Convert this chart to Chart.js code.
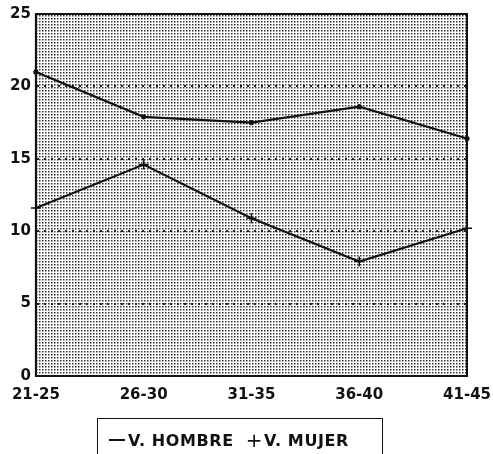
<!DOCTYPE html>
<html>
<head>
<meta charset="utf-8">
<script src="https://cdn.jsdelivr.net/npm/chart.js@4"></script>
<style>
  body { margin: 0; background: #fff; }
  #wrap { position: relative; width: 493px; height: 454px; }
  #legend {
    position: absolute; left: 97px; top: 418px; width: 286px; height: 40px;
    border: 1.5px solid #111; border-bottom: none; box-sizing: border-box;
    font: bold 16px "DejaVu Sans", sans-serif; color: #111;
    padding-top: 9px; padding-left: 11px; letter-spacing: 0.6px; white-space: nowrap;
  }
  #legend .ln { display: inline-block; width: 16px; height: 0; border-top: 2px solid #111; vertical-align: 5px; margin-right: 3px; }
  #legend .pl { display: inline-block; font-weight: normal; font-size: 20px; vertical-align: -1px; margin-left: 12px; margin-right: 1px; }
</style>
</head>
<body>
<div id="wrap">
  <canvas id="myChart" width="493" height="454"></canvas>
  <div id="legend"><span class="ln"></span>V. HOMBRE<span class="pl">+</span>V. MUJER</div>
</div>
<script>
// DATA
const labels = ['21-25', '26-30', '31-35', '36-40', '41-45'];
const hombre = [21.0, 17.9, 17.5, 18.6, 16.4];
const mujer = [11.6, 14.6, 10.9, 7.9, 10.2];

// stippled background pattern
const tile = document.createElement('canvas');
tile.width = 3; tile.height = 3;
const tctx = tile.getContext('2d');
tctx.fillStyle = '#fff';
tctx.fillRect(0, 0, 3, 3);
tctx.fillStyle = '#333';
tctx.fillRect(0, 0, 1.5, 1.5);

const stipple = {
  id: 'stipple',
  beforeDraw(chart) {
    const { ctx, chartArea: a } = chart;
    ctx.save();
    ctx.fillStyle = ctx.createPattern(tile, 'repeat');
    ctx.fillRect(a.left, a.top, a.right - a.left, a.bottom - a.top);
    ctx.restore();
  },
  afterDraw(chart) {
    const { ctx, chartArea: a } = chart;
    ctx.save();
    ctx.strokeStyle = '#111';
    ctx.lineWidth = 2;
    ctx.setLineDash([]);
    ctx.strokeRect(a.left, a.top, a.right - a.left, a.bottom - a.top);
    ctx.restore();
  }
};

const tickFont = { family: 'DejaVu Sans', size: 15, weight: 'bold' };

const config = {
  type: 'line',
  data: {
    labels: labels,
    datasets: [{
      label: 'V. HOMBRE',
      data: hombre,
      borderColor: '#111',
      borderWidth: 2.2,
      pointStyle: 'circle',
      pointRadius: 1.5,
      pointBackgroundColor: '#111',
      pointBorderColor: '#111',
      tension: 0
    }, {
      label: 'V. MUJER',
      data: mujer,
      borderColor: '#111',
      borderWidth: 2.2,
      pointStyle: 'cross',
      pointRadius: 5,
      pointBorderColor: '#111',
      pointBorderWidth: 1.5,
      tension: 0
    }]
  },
  options: {
    responsive: false,
    animation: false,
    layout: { padding: { left: 5, right: 2, top: 2, bottom: 48 } },
    plugins: { legend: { display: false }, tooltip: { enabled: false } },
    scales: {
      x: {
        offset: false,
        grid: { display: false },
        border: { color: '#111', width: 2 },
        ticks: { color: '#111', font: tickFont, padding: 2, maxRotation: 0 }
      },
      y: {
        min: 0, max: 25,
        ticks: { stepSize: 5, color: '#111', font: tickFont, padding: 5 },
        grid: { color: '#222', lineWidth: 2, drawTicks: false },
        border: { color: '#111', width: 2, dash: [2, 5] }
      }
    }
  },
  plugins: [stipple]
};

var myChart = new Chart(document.getElementById('myChart'), config);
</script>
</body>
</html>
